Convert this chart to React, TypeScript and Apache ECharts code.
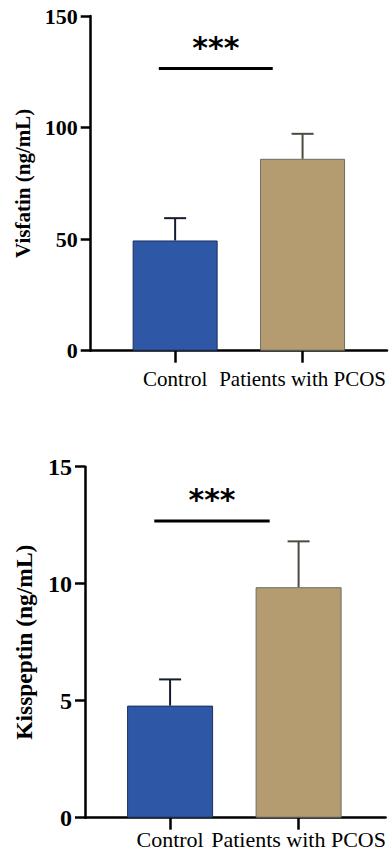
import React, { useEffect, useRef } from 'react';
import * as echarts from 'echarts';

const categories = ['Control', 'Patients with PCOS'];
const barColors = ['#2E58A5', '#B59C70'];
const barBorderColors = ['#1d2f5f', '#6e6a62'];
const errorColors = ['#141c30', '#4f4a40'];

const visfatinMean = [49.4, 86.0];
const visfatinSD = [10.0, 11.2];
const kisspeptinMean = [4.79, 9.85];
const kisspeptinSD = [1.12, 1.96];

// significance annotation: [fromX, toX, lineValue, textValue]
const visfatinSig = [-0.128, 0.766, 126.5, 135.9];
const kisspeptinSig = [-0.123, 0.775, 12.68, 13.58];
const sigLabel = '***';

const SERIF = '"Liberation Serif", "Times New Roman", serif';

function xAxis(gridIndex: number, min: number, max: number, fontSize: number, margin: number) {
  return {
    type: 'value',
    gridIndex,
    min,
    max,
    axisLine: { show: true, onZero: false, lineStyle: { color: '#000', width: 2.5 } },
    axisTick: { show: true, customValues: [0, 1], length: 12, lineStyle: { color: '#000', width: 2.5 } },
    axisLabel: {
      show: true,
      customValues: [0, 1],
      formatter: (v: number) => categories[Math.round(v)] ?? '',
      color: '#000',
      fontFamily: SERIF,
      fontSize,
      margin,
    },
    splitLine: { show: false },
  };
}

function yAxis(gridIndex: number, max: number, interval: number, name: string, labelSize: number, nameSize: number, nameGap: number) {
  return {
    type: 'value',
    gridIndex,
    min: 0,
    max,
    interval,
    name,
    nameLocation: 'middle',
    nameGap,
    nameTextStyle: { color: '#000', fontFamily: SERIF, fontWeight: 'bold', fontSize: nameSize },
    axisLine: { show: true, onZero: false, lineStyle: { color: '#000', width: 2.5 } },
    axisTick: { show: true, length: 10, lineStyle: { color: '#000', width: 2.5 } },
    axisLabel: { color: '#000', fontFamily: SERIF, fontWeight: 'bold', fontSize: labelSize, margin: 13 },
    splitLine: { show: false },
  };
}

function barSeries(idx: number, means: number[], width: number) {
  return {
    type: 'bar',
    xAxisIndex: idx,
    yAxisIndex: idx,
    barWidth: width,
    z: 2,
    data: means.map((m, i) => ({
      value: [i, m],
      itemStyle: { color: barColors[i], borderColor: barBorderColors[i], borderWidth: 1 },
    })),
  };
}

function errorSeries(idx: number, means: number[], sds: number[]) {
  return {
    type: 'custom',
    xAxisIndex: idx,
    yAxisIndex: idx,
    z: 3,
    data: means.map((m, i) => [i, m, sds[i]]),
    renderItem: (params: any, api: any) => {
      const x = api.value(0);
      const m = api.value(1);
      const s = api.value(2);
      const base = api.coord([x, m]);
      const top = api.coord([x, m + s]);
      const color = errorColors[params.dataIndex];
      return {
        type: 'group',
        children: [
          { type: 'line', shape: { x1: base[0], y1: base[1], x2: top[0], y2: top[1] }, style: { stroke: color, lineWidth: 2 } },
          { type: 'line', shape: { x1: top[0] - 11, y1: top[1], x2: top[0] + 11, y2: top[1] }, style: { stroke: color, lineWidth: 2 } },
        ],
      };
    },
  };
}

function sigSeries(idx: number, sig: number[]) {
  return {
    type: 'custom',
    xAxisIndex: idx,
    yAxisIndex: idx,
    z: 4,
    data: [sig],
    renderItem: (_params: any, api: any) => {
      const p1 = api.coord([api.value(0), api.value(2)]);
      const p2 = api.coord([api.value(1), api.value(2)]);
      const mid = (api.value(0) + api.value(1)) / 2;
      const t = api.coord([mid, api.value(3)]);
      return {
        type: 'group',
        children: [
          { type: 'line', shape: { x1: p1[0], y1: p1[1], x2: p2[0], y2: p2[1] }, style: { stroke: '#000', lineWidth: 3 } },
          {
            type: 'text',
            x: t[0],
            y: t[1],
            style: {
              text: sigLabel,
              align: 'center',
              verticalAlign: 'middle',
              font: 'bold 30px "DejaVu Sans", sans-serif',
              fill: '#000',
            },
          },
        ],
      };
    },
  };
}

export default function App() {
  const ref = useRef<HTMLDivElement>(null);
  useEffect(() => {
    document.body.style.margin = '0';
    const chart = echarts.init(ref.current!, undefined, { renderer: 'svg' });
    chart.setOption({
      animation: false,
      backgroundColor: '#fff',
      grid: [
        { left: 90.7, top: 16, width: 298.3, height: 334.7 },
        { left: 85, top: 466.7, width: 304, height: 351 },
      ],
      xAxis: [xAxis(0, -0.6625, 1.6625, 21, 18), xAxis(1, -0.662, 1.677, 22, 11)],
      yAxis: [
        yAxis(0, 150, 50, 'Visfatin (ng/mL)', 22, 21, 51),
        yAxis(1, 15, 5, 'Kisspeptin (ng/mL)', 24, 23.5, 49),
      ],
      series: [
        barSeries(0, visfatinMean, 85),
        errorSeries(0, visfatinMean, visfatinSD),
        sigSeries(0, visfatinSig),
        barSeries(1, kisspeptinMean, 86),
        errorSeries(1, kisspeptinMean, kisspeptinSD),
        sigSeries(1, kisspeptinSig),
      ],
    });
    return () => chart.dispose();
  }, []);
  return <div ref={ref} style={{ position: 'absolute', left: 0, top: 0, width: 389, height: 862 }} />;
}
